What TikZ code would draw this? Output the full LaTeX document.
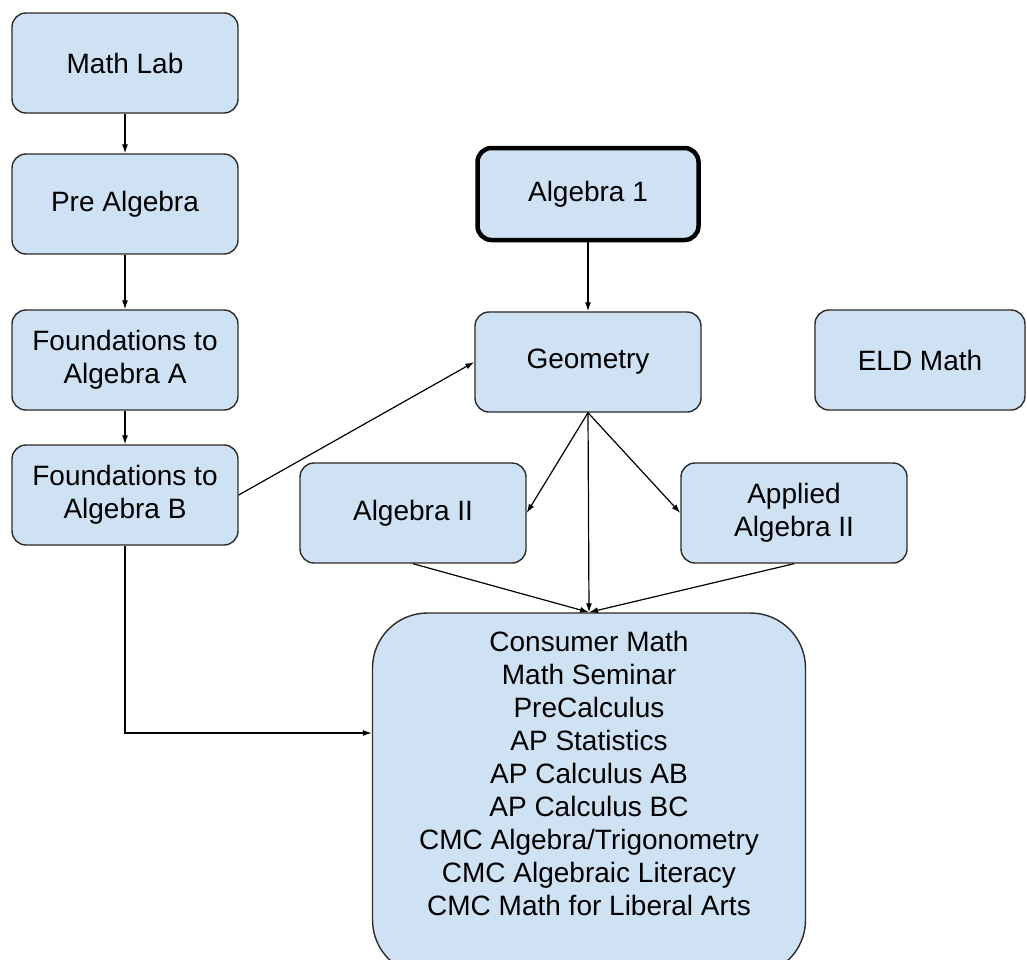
\documentclass[tikz,border=0pt]{standalone}
\usepackage{fontspec}
\setmainfont{Liberation Sans}
\usetikzlibrary{positioning, shapes.geometric}
\usetikzlibrary{arrows, arrows.meta}
\definecolor{boxblue}{HTML}{CFE2F3}
\definecolor{boxline}{HTML}{2B2B2B}

\begin{document}
\begin{tikzpicture}[x=1pt, y=-1pt,
  course/.style={draw=boxline, line width=1.4pt, fill=boxblue,
    rounded corners=14pt, minimum width=226pt, minimum height=100pt,
    align=center, inner sep=0pt, font=\fontsize{28}{33}\selectfont},
  link/.style={-{Latex[length=9pt,width=6pt]}, line width=1.2pt, black}]
        \clip (0,0) rectangle (1027,959);
        \fill[white] (0,0) rectangle (1027,959);
        % left column
        \node[course] (mathlab) at (125,63) {Math Lab};
        \node[course] (prealg) at (125,204) {Pre Algebra};
        \node[course] (founda) at (125,360) {Foundations to\\Algebra A};
        \node[course] (foundb) at (125,495) {Foundations to\\Algebra B};
        % middle and right
        \node[course, draw=black, line width=4.5pt, minimum width=221pt,
          minimum height=92pt] (algone) at (588,194) {Algebra 1};
        \node[course] (geometry) at (588,362) {Geometry};
        \node[course, minimum width=210pt] (eld) at (920,360) {ELD Math};
        \node[course] (algtwo) at (413,513) {Algebra II};
        \node[course] (applied) at (794,513) {Applied\\Algebra II};
        \node[course, minimum width=433pt, minimum height=362pt,
          rounded corners=55pt] (courses) at (589,794) {};
        \node[align=center, font=\fontsize{28}{33}\selectfont]
          (courselist) at (589,773) {Consumer Math\\Math Seminar\\PreCalculus\\AP Statistics\\AP Calculus AB\\AP Calculus BC\\CMC Algebra/Trigonometry\\CMC Algebraic Literacy\\CMC Math for Liberal Arts};
        % arrows
        \draw[link] (mathlab) -- (prealg);
        \draw[link] (prealg) -- (founda);
        \draw[link] (founda) -- (foundb);
        \draw[link] (foundb.east) -- (geometry.west);
        \draw[link] (algone) -- (geometry);
        \draw[link] (geometry.south) -- (algtwo.east);
        \draw[link] (geometry.south) -- (applied.west);
        \draw[link] (geometry.south) -- (courses.north);
        \draw[link] (algtwo.south) -- (courses.north);
        \draw[link] (applied.south) -- (courses.north);
        \draw[link] (foundb.south) |- ([yshift=61pt]courses.west);
      \end{tikzpicture}
\end{document}
